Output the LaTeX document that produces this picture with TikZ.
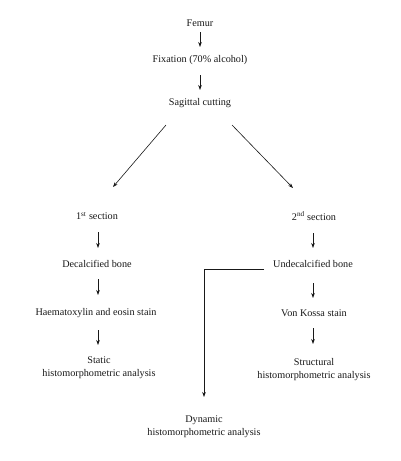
\documentclass[tikz,border=0pt]{standalone}
\usepackage{fontspec}
\setmainfont{Liberation Serif}
\usetikzlibrary{arrows.meta}
\begin{document}
\begin{tikzpicture}[x=1pt,y=-1pt,
  lbl/.style={inner sep=0pt,align=center,font=\fontsize{10.2}{13}\selectfont,text=black!90},
  arr/.style={draw=black!90,line width=0.6pt,-{Stealth[length=5pt,width=3.6pt]}},
  ln/.style={draw=black!90,line width=0.6pt}]
\useasboundingbox[fill=white] (0,0) rectangle (400,461);
\node[lbl] (fem) at (200,23) {Femur};
\node[lbl] (fix) at (200,60) {Fixation (70\% alcohol)};
\node[lbl] (sag) at (200,103) {Sagittal cutting};
\node[lbl] (s1) at (97,216) {1\textsuperscript{st} section};
\node[lbl] (s2) at (314,216) {2\textsuperscript{nd} section};
\node[lbl] (dec) at (97,264) {Decalcified bone};
\node[lbl] (und) at (313,264) {Undecalcified bone};
\node[lbl] (hae) at (96,313) {Haematoxylin and eosin stain};
\node[lbl] (vk) at (314,313) {Von Kossa stain};
\node[lbl] (sta) at (99,368) {Static\\histomorphometric analysis};
\node[lbl] (str) at (314,369.5) {Structural\\histomorphometric analysis};
\node[lbl] (dyn) at (204,427) {Dynamic\\histomorphometric analysis};

\draw[arr] ([yshift=-9pt]fem.center) -- ([yshift=13pt]fix.center);
\draw[arr] ([yshift=-15pt]fix.center) -- ([yshift=13pt]sag.center);
\draw[arr] ([xshift=-34pt,yshift=-22pt]sag.center) -- ([xshift=16pt,yshift=29pt]s1.center);
\draw[arr] ([xshift=32pt,yshift=-22pt]sag.center) -- ([xshift=-21pt,yshift=28pt]s2.center);
\draw[arr] ([xshift=1pt,yshift=-16pt]s1.center) -- ([xshift=1pt,yshift=16pt]dec.center);
\draw[arr] ([xshift=1pt,yshift=-15pt]dec.center) -- ([xshift=2pt,yshift=18pt]hae.center);
\draw[arr] ([xshift=2pt,yshift=-17pt]hae.center) -- ([xshift=-1pt,yshift=23pt]sta.center);
\draw[arr] ([xshift=-1pt,yshift=-17pt]s2.center) -- ([yshift=16pt]und.center);
\draw[arr] ([yshift=-19pt]und.center) -- ([xshift=-1pt,yshift=15pt]vk.center);
\draw[arr] ([xshift=-1pt,yshift=-15pt]vk.center) -- ([xshift=-1pt,yshift=25.5pt]str.center);
\draw[arr] ([xshift=-49pt,yshift=-5pt]und.center) -| ([yshift=30pt]dyn.center);
\end{tikzpicture}
\end{document}
